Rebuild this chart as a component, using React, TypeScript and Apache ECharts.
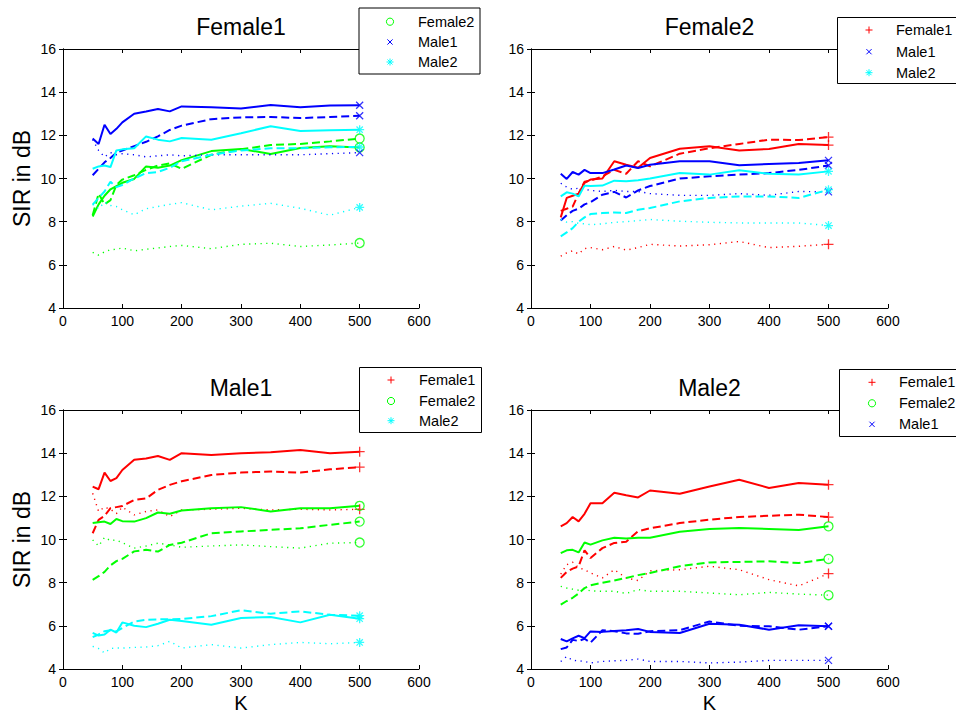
import React, { useEffect, useRef } from "react";
import * as echarts from "echarts";

const K = [50, 60, 70, 80, 90, 100, 120, 140, 160, 180, 200, 250, 300, 350, 400, 450, 500];
const X_TICKS = [0, 100, 200, 300, 400, 500, 600];
const Y_TICKS = [4, 6, 8, 10, 12, 14, 16];

// Panel "Female1"
const female1_F2_solid = [8.24, 8.8, 9.2, 9.5, 9.65, 9.8, 9.98, 10.56, 10.5, 10.6, 10.85, 11.27, 11.37, 11.14, 11.41, 11.49, 11.44];
const female1_F2_dashed = [8.3, 9.3, 8.8, 9.0, 9.7, 9.95, 10.15, 10.4, 10.6, 10.7, 10.45, 11.1, 11.35, 11.55, 11.6, 11.72, 11.85];
const female1_F2_dotted = [6.58, 6.45, 6.6, 6.7, 6.72, 6.78, 6.65, 6.72, 6.78, 6.85, 6.9, 6.75, 6.95, 7.0, 6.85, 6.92, 7.01];
const female1_M1_solid = [11.85, 11.6, 12.49, 12.06, 12.3, 12.6, 13.0, 13.1, 13.22, 13.11, 13.34, 13.3, 13.24, 13.4, 13.3, 13.38, 13.39];
const female1_M1_dashed = [10.15, 10.45, 10.75, 10.95, 11.2, 11.3, 11.5, 11.7, 11.95, 12.25, 12.45, 12.75, 12.83, 12.85, 12.8, 12.85, 12.91];
const female1_M1_dotted = [11.8, 11.3, 11.0, 11.2, 11.1, 11.15, 11.1, 11.0, 11.05, 11.1, 11.05, 11.1, 11.1, 11.1, 11.1, 11.15, 11.2];
const female1_M2_solid = [10.45, 10.56, 10.6, 10.53, 11.3, 11.35, 11.4, 11.95, 11.8, 11.72, 11.88, 11.8, 12.1, 12.42, 12.2, 12.23, 12.26];
const female1_M2_dashed = [8.79, 9.1, 9.4, 9.85, 9.6, 9.7, 10.0, 10.25, 10.3, 10.5, 10.8, 11.1, 11.3, 11.4, 11.4, 11.45, 11.46];
const female1_M2_dotted = [8.8, 8.6, 8.9, 8.75, 8.7, 8.55, 8.32, 8.6, 8.7, 8.8, 8.88, 8.55, 8.72, 8.85, 8.62, 8.3, 8.66];

// Panel "Female2"
const female2_F1_solid = [8.2, 9.1, 9.2, 9.3, 9.8, 9.95, 10.0, 10.8, 10.64, 10.5, 10.95, 11.38, 11.49, 11.3, 11.37, 11.6, 11.55];
const female2_F1_dashed = [8.5, 8.6, 8.7, 9.3, 9.85, 9.9, 10.1, 10.4, 10.22, 10.8, 10.56, 11.15, 11.4, 11.6, 11.8, 11.78, 11.92];
const female2_F1_dotted = [6.4, 6.55, 6.65, 6.5, 6.75, 6.8, 6.7, 6.85, 6.68, 6.8, 6.95, 6.87, 6.93, 7.08, 6.8, 6.86, 6.95];
const female2_M1_solid = [10.22, 9.98, 10.3, 10.18, 10.4, 10.25, 10.25, 10.42, 10.6, 10.49, 10.64, 10.8, 10.8, 10.61, 10.67, 10.72, 10.84];
const female2_M1_dashed = [8.05, 8.3, 8.5, 8.6, 8.8, 8.9, 9.25, 9.38, 9.12, 9.45, 9.65, 10.0, 10.1, 10.18, 10.25, 10.4, 10.6];
const female2_M1_dotted = [9.78, 9.6, 9.5, 9.55, 9.5, 9.45, 9.4, 9.45, 9.4, 9.4, 9.3, 9.22, 9.22, 9.3, 9.22, 9.4, 9.38];
const female2_M2_solid = [9.17, 9.36, 9.3, 9.17, 9.67, 9.65, 9.67, 9.9, 9.87, 9.92, 10.0, 10.25, 10.18, 10.38, 10.22, 10.18, 10.33];
const female2_M2_dashed = [7.32, 7.5, 7.7, 8.0, 8.2, 8.35, 8.4, 8.43, 8.4, 8.55, 8.63, 8.94, 9.1, 9.17, 9.17, 9.1, 9.48];
const female2_M2_dotted = [8.1, 7.98, 8.0, 7.92, 7.9, 7.86, 7.9, 7.97, 8.0, 8.05, 8.1, 8.02, 7.97, 7.94, 7.94, 7.94, 7.82];

// Panel "Male1"
const male1_F1_solid = [12.45, 12.33, 13.1, 12.71, 12.84, 13.22, 13.69, 13.75, 13.87, 13.69, 14.0, 13.92, 14.0, 14.04, 14.15, 14.0, 14.07];
const male1_F1_dashed = [10.29, 10.91, 11.1, 11.45, 11.5, 11.55, 11.83, 11.9, 12.3, 12.53, 12.7, 12.99, 13.1, 13.15, 13.1, 13.25, 13.35];
const male1_F1_dotted = [12.14, 11.3, 11.5, 11.4, 11.2, 11.5, 11.14, 11.3, 11.37, 11.06, 11.37, 11.4, 11.45, 11.37, 11.4, 11.37, 11.4];
const male1_F2_solid = [10.76, 10.8, 10.83, 10.72, 10.95, 10.85, 10.83, 10.99, 11.25, 11.19, 11.34, 11.45, 11.5, 11.3, 11.45, 11.45, 11.56];
const male1_F2_dashed = [8.13, 8.3, 8.5, 8.8, 9.0, 9.1, 9.45, 9.52, 9.44, 9.75, 9.85, 10.29, 10.37, 10.45, 10.52, 10.68, 10.83];
const male1_F2_dotted = [9.98, 9.7, 10.1, 9.95, 9.98, 9.85, 9.6, 9.7, 9.83, 9.75, 9.64, 9.7, 9.75, 9.67, 9.6, 9.83, 9.86];
const male1_M2_solid = [5.67, 5.55, 5.6, 5.82, 5.69, 6.16, 6.0, 5.94, 6.1, 6.28, 6.22, 6.05, 6.36, 6.41, 6.16, 6.51, 6.33];
const male1_M2_dashed = [5.48, 5.6, 5.75, 5.8, 5.74, 5.9, 6.2, 6.28, 6.3, 6.3, 6.32, 6.45, 6.72, 6.56, 6.67, 6.51, 6.47];
const male1_M2_dotted = [5.05, 4.95, 4.74, 4.95, 4.97, 4.97, 5.0, 5.02, 5.08, 5.28, 4.97, 5.13, 4.97, 5.13, 5.23, 5.17, 5.23];

// Panel "Male2"
const male2_F1_solid = [10.61, 10.76, 11.04, 10.84, 11.19, 11.68, 11.68, 12.17, 12.05, 11.95, 12.27, 12.12, 12.46, 12.77, 12.39, 12.62, 12.54];
const male2_F1_dashed = [8.22, 8.5, 8.65, 8.75, 9.5, 9.14, 9.6, 9.84, 9.9, 10.38, 10.52, 10.76, 10.92, 11.04, 11.1, 11.15, 11.04];
const male2_F1_dotted = [8.4, 8.83, 8.95, 8.7, 8.6, 8.45, 8.22, 8.6, 8.22, 8.1, 8.55, 8.6, 8.76, 8.6, 8.14, 7.85, 8.42];
const male2_F2_solid = [9.37, 9.5, 9.52, 9.4, 9.86, 9.76, 9.96, 10.08, 10.05, 10.08, 10.08, 10.36, 10.49, 10.53, 10.49, 10.44, 10.61];
const male2_F2_dashed = [6.98, 7.15, 7.3, 7.5, 7.75, 7.88, 8.0, 8.1, 8.22, 8.35, 8.45, 8.76, 8.94, 8.96, 8.99, 8.91, 9.1];
const male2_F2_dotted = [7.83, 7.75, 7.7, 7.65, 7.7, 7.62, 7.6, 7.6, 7.5, 7.68, 7.6, 7.6, 7.52, 7.44, 7.55, 7.47, 7.42];
const male2_M1_solid = [5.39, 5.28, 5.42, 5.54, 5.43, 5.74, 5.72, 5.76, 5.8, 5.85, 5.72, 5.67, 6.1, 6.05, 5.82, 6.03, 5.98];
const male2_M1_dashed = [4.92, 5.0, 5.35, 5.3, 5.4, 5.22, 5.8, 5.75, 5.65, 5.63, 5.75, 5.8, 6.2, 6.0, 5.98, 5.82, 5.98];
const male2_M1_dotted = [4.35, 4.58, 4.4, 4.38, 4.35, 4.28, 4.35, 4.38, 4.4, 4.46, 4.35, 4.35, 4.28, 4.32, 4.4, 4.4, 4.4];

const COLORS: Record<string, string> = {
  Female1: "#ff0000",
  Female2: "#00ff00",
  Male1: "#0000ff",
  Male2: "#00ffff",
};
const MARKERS: Record<string, string> = {
  Female1: "plus",
  Female2: "circle",
  Male1: "cross",
  Male2: "star",
};
const SYMBOL_PATHS: Record<string, string> = {
  plus: "path://M5 0 L5 10 M0 5 L10 5",
  cross: "path://M0 0 L10 10 M10 0 L0 10",
  star: "path://M5 0 L5 10 M0 5 L10 5 M1.5 1.5 L8.5 8.5 M8.5 1.5 L1.5 8.5",
  circle: "circle",
};
const SYMBOL_SIZES: Record<string, number> = { plus: 10, cross: 7, star: 9, circle: 9 };

type Src = { name: string; solid: number[]; dashed: number[]; dotted: number[] };
const FONT = "'Liberation Sans', Arial, Helvetica, sans-serif";

const PANELS: {
  title: string;
  grid: { left: number; top: number; width: number; height: number };
  sources: Src[];
  legend: { x: number; y: number; w: number; h: number; rows: number[]; mx: number; tx: number };
  yName: boolean;
  xName: boolean;
}[] = [
  {
    title: "Female1",
    grid: { left: 63, top: 49, width: 356, height: 259 },
    sources: [
      { name: "Female2", solid: female1_F2_solid, dashed: female1_F2_dashed, dotted: female1_F2_dotted },
      { name: "Male1", solid: female1_M1_solid, dashed: female1_M1_dashed, dotted: female1_M1_dotted },
      { name: "Male2", solid: female1_M2_solid, dashed: female1_M2_dashed, dotted: female1_M2_dotted },
    ],
    legend: { x: 359, y: 8, w: 121, h: 66, rows: [21.7, 42, 62], mx: 390, tx: 418 },
    yName: true,
    xName: false,
  },
  {
    title: "Female2",
    grid: { left: 531, top: 49, width: 357, height: 259 },
    sources: [
      { name: "Female1", solid: female2_F1_solid, dashed: female2_F1_dashed, dotted: female2_F1_dotted },
      { name: "Male1", solid: female2_M1_solid, dashed: female2_M1_dashed, dotted: female2_M1_dotted },
      { name: "Male2", solid: female2_M2_solid, dashed: female2_M2_dashed, dotted: female2_M2_dotted },
    ],
    legend: { x: 837.5, y: 17.5, w: 130, h: 66, rows: [30, 51.7, 72.7], mx: 869, tx: 896 },
    yName: false,
    xName: false,
  },
  {
    title: "Male1",
    grid: { left: 63, top: 410, width: 356, height: 259 },
    sources: [
      { name: "Female1", solid: male1_F1_solid, dashed: male1_F1_dashed, dotted: male1_F1_dotted },
      { name: "Female2", solid: male1_F2_solid, dashed: male1_F2_dashed, dotted: male1_F2_dotted },
      { name: "Male2", solid: male1_M2_solid, dashed: male1_M2_dashed, dotted: male1_M2_dotted },
    ],
    legend: { x: 359.5, y: 367.5, w: 122, h: 65, rows: [380, 401, 420.7], mx: 391, tx: 419 },
    yName: true,
    xName: true,
  },
  {
    title: "Male2",
    grid: { left: 531, top: 410, width: 357, height: 259 },
    sources: [
      { name: "Female1", solid: male2_F1_solid, dashed: male2_F1_dashed, dotted: male2_F1_dotted },
      { name: "Female2", solid: male2_F2_solid, dashed: male2_F2_dashed, dotted: male2_F2_dotted },
      { name: "Male1", solid: male2_M1_solid, dashed: male2_M1_dashed, dotted: male2_M1_dotted },
    ],
    legend: { x: 839.5, y: 369.5, w: 130, h: 67, rows: [382.3, 403.3, 424.3], mx: 872, tx: 899 },
    yName: false,
    xName: true,
  },
];

function legendMarker(kind: string, cx: number, cy: number, color: string): any[] {
  const st = { stroke: color, lineWidth: 1 };
  const ln = (x1: number, y1: number, x2: number, y2: number) => ({
    type: "line",
    z: 101,
    shape: { x1, y1, x2, y2 },
    style: st,
  });
  if (kind === "plus") return [ln(cx - 3.5, cy, cx + 3.5, cy), ln(cx, cy - 3.5, cx, cy + 3.5)];
  if (kind === "cross") return [ln(cx - 2.6, cy - 2.6, cx + 2.6, cy + 2.6), ln(cx + 2.6, cy - 2.6, cx - 2.6, cy + 2.6)];
  if (kind === "star")
    return [
      ln(cx - 3.5, cy, cx + 3.5, cy),
      ln(cx, cy - 3.5, cx, cy + 3.5),
      ln(cx - 2.5, cy - 2.5, cx + 2.5, cy + 2.5),
      ln(cx + 2.5, cy - 2.5, cx - 2.5, cy + 2.5),
    ];
  return [{ type: "circle", z: 101, shape: { cx, cy, r: 3.6 }, style: { fill: "none", stroke: color, lineWidth: 1 } }];
}

function buildOption() {
  const grid: any[] = [];
  const xAxis: any[] = [];
  const yAxis: any[] = [];
  const series: any[] = [];
  const graphic: any[] = [];

  PANELS.forEach((p, gi) => {
    grid.push({ ...p.grid, containLabel: false });
    const axisCommon = {
      gridIndex: gi,
      type: "value",
      axisLine: { show: true, lineStyle: { color: "#000", width: 1 } },
      axisTick: { show: true, inside: true, length: 4, lineStyle: { color: "#000" } },
      splitLine: { show: false },
    };
    xAxis.push({
      ...axisCommon,
      position: "bottom",
      min: X_TICKS[0],
      max: X_TICKS[X_TICKS.length - 1],
      interval: 100,
      axisLabel: { show: true, color: "#000", fontSize: 14, fontFamily: FONT, margin: 6 },
    });
    xAxis.push({
      ...axisCommon,
      position: "top",
      min: X_TICKS[0],
      max: X_TICKS[X_TICKS.length - 1],
      interval: 100,
      axisLabel: { show: false },
    });
    yAxis.push({
      ...axisCommon,
      position: "left",
      min: Y_TICKS[0],
      max: Y_TICKS[Y_TICKS.length - 1],
      interval: 2,
      axisLabel: { show: true, color: "#000", fontSize: 14, fontFamily: FONT, margin: 7 },
    });
    yAxis.push({
      ...axisCommon,
      position: "right",
      min: Y_TICKS[0],
      max: Y_TICKS[Y_TICKS.length - 1],
      interval: 2,
      axisLabel: { show: false },
    });

    p.sources.forEach((s) => {
      const color = COLORS[s.name];
      const styles: [number[], any, number][] = [
        [s.solid, "solid", 2],
        [s.dashed, [8, 4], 2],
        [s.dotted, [1.2, 4.5], 1.4],
      ];
      styles.forEach(([vals, type, width]) => {
        series.push({
          type: "line",
          xAxisIndex: gi * 2,
          yAxisIndex: gi * 2,
          data: K.map((k, i) => [k, vals[i]]),
          symbol: "none",
          silent: true,
          lineStyle: { color, width, type },
        });
      });
      const mk = MARKERS[s.name];
      series.push({
        type: "scatter",
        xAxisIndex: gi * 2,
        yAxisIndex: gi * 2,
        z: 3,
        silent: true,
        data: [s.solid, s.dashed, s.dotted].map((v) => [K[K.length - 1], v[v.length - 1]]),
        symbol: SYMBOL_PATHS[mk],
        symbolSize: SYMBOL_SIZES[mk],
        itemStyle: { color: "rgba(0,0,0,0)", borderColor: color, borderWidth: 1.3 },
      });
    });

    const cx = p.grid.left + p.grid.width / 2;
    graphic.push({
      type: "text",
      x: cx,
      y: p.grid.top - 22,
      style: { text: p.title, fontSize: 23, fontFamily: FONT, fill: "#000", align: "center", verticalAlign: "middle" },
    });
    if (p.yName) {
      graphic.push({
        type: "text",
        x: 22,
        y: p.grid.top + p.grid.height / 2,
        rotation: Math.PI / 2,
        style: { text: "SIR in dB", fontSize: 23, fontFamily: FONT, fill: "#000", align: "center", verticalAlign: "middle" },
      });
    }
    if (p.xName) {
      graphic.push({
        type: "text",
        x: cx,
        y: 703,
        style: { text: "K", fontSize: 20, fontFamily: FONT, fill: "#000", align: "center", verticalAlign: "middle" },
      });
    }
    const L = p.legend;
    graphic.push({
      type: "rect",
      z: 100,
      shape: { x: L.x, y: L.y, width: L.w, height: L.h },
      style: { fill: "#fff", stroke: "#000", lineWidth: 1 },
    });
    p.sources.forEach((s, i) => {
      legendMarker(MARKERS[s.name], L.mx, L.rows[i], COLORS[s.name]).forEach((g) => graphic.push(g));
      graphic.push({
        type: "text",
        z: 101,
        x: L.tx,
        y: L.rows[i],
        style: { text: s.name, fontSize: 14.5, fontFamily: FONT, fill: "#000", align: "left", verticalAlign: "middle" },
      });
    });
  });

  return { animation: false, backgroundColor: "#fff", grid, xAxis, yAxis, series, graphic };
}

export default function App() {
  const ref = useRef<HTMLDivElement>(null);
  useEffect(() => {
    if (!ref.current) return;
    const chart = echarts.init(ref.current, undefined, { renderer: "svg" });
    chart.setOption(buildOption() as any);
    return () => chart.dispose();
  }, []);
  return (
    <div
      ref={ref}
      style={{ position: "absolute", left: 0, top: 0, width: 956, height: 714, background: "#fff" }}
    />
  );
}
